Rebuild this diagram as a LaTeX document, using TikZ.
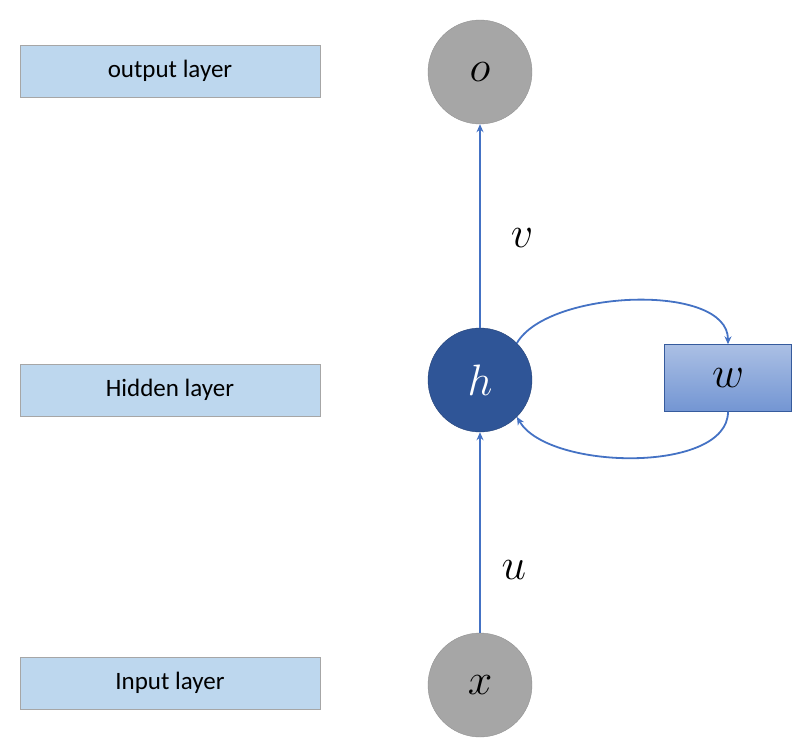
\RequirePackage{fix-cm}
\documentclass[tikz,border=0pt]{standalone}
\usepackage{fontspec}
\setmainfont{Carlito}
\usetikzlibrary{arrows.meta}
\definecolor{lbox}{HTML}{BDD7EE}
\definecolor{hblue}{HTML}{2F5597}
\definecolor{ln}{HTML}{4472C4}
\begin{document}
\begin{tikzpicture}[x=1pt,y=-1pt,
  layer/.style={draw=gray!70,fill=lbox,minimum width=300pt,minimum height=52pt,font=\fontsize{25}{30}\selectfont},
  neuron/.style={circle,minimum size=104pt,inner sep=0pt,font=\fontsize{44}{50}\selectfont},
  con/.style={ln,line width=1.8pt,-{Stealth[length=8pt,width=7pt]}},
  lab/.style={font=\fontsize{44}{50}\selectfont}]
\useasboundingbox (0,0) rectangle (808,750);
\node[layer] (lo) at (170,71) {output layer};
\node[layer] (lh) at (170,390) {Hidden layer};
\node[layer] (li) at (170,683) {Input layer};
\node[neuron,fill=gray!70,draw=gray!85] (o) at (480,72) {$o$};
\node[neuron,fill=hblue,draw=hblue!80!black,text=white] (h) at (480,380) {$h$};
\node[neuron,fill=gray!70,draw=gray!85] (x) at (480,685) {$x$};
\node[draw=ln!80!black,top color=ln!45,bottom color=ln!75,minimum width=127pt,minimum height=67pt,inner sep=0pt,font=\fontsize{44}{50}\selectfont] (w) at (728,378) {$w$};
\draw[con] (x) -- (h);
\draw[con] (h) -- (o);
\node[lab] (v) at (522,238) {$v$};
\node[lab] (u) at (514,570) {$u$};
\draw[con] (h.45) to[out=60,in=90,looseness=0.75] (w.north);
\draw[con] (w.south) to[out=-90,in=-60,looseness=0.75] (h.-45);
\end{tikzpicture}
\end{document}
